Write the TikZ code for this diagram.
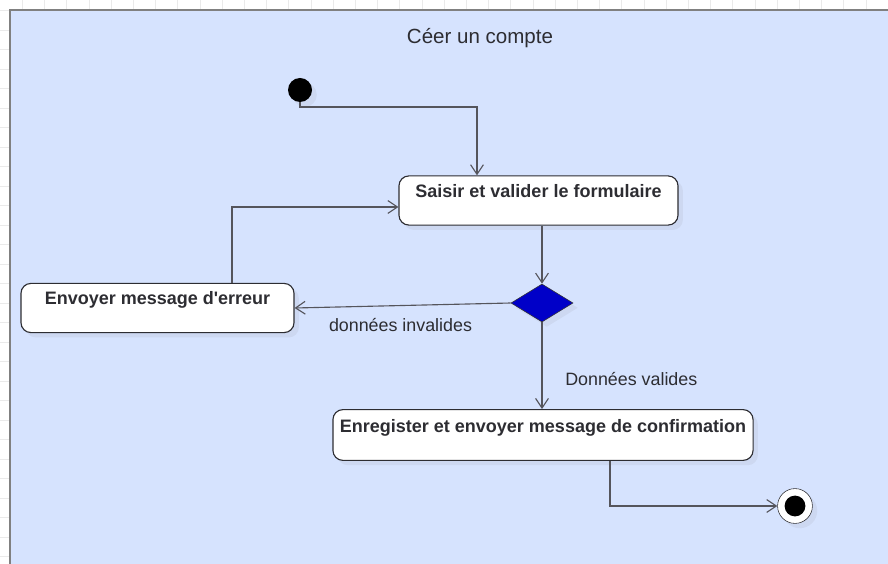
\documentclass[tikz,border=0pt]{standalone}
\usepackage{fontspec}
\setmainfont{Liberation Sans}[Ligatures=TeXOff]
\usepackage{tikz}
\usetikzlibrary{calc,positioning,arrows.meta,shapes.geometric,shadows}

\definecolor{cadre}{RGB}{214,227,254}
\definecolor{trait}{RGB}{85,85,92}
\definecolor{texte}{RGB}{45,45,50}
\definecolor{losange}{RGB}{0,0,200}
\definecolor{grille}{RGB}{234,234,234}

\begin{document}
\begin{tikzpicture}[x=0.025cm,y=-0.025cm,>={Straight Barb[length=0.24cm,width=0.32cm]},
    ombre/.style={drop shadow={shadow xshift=0.12cm,shadow yshift=-0.12cm,opacity=0.10}},
    action/.style={draw=texte,fill=white,rounded corners=0.25cm,thick,ombre,
      inner sep=0pt,text height=0.53cm,text depth=0.7cm,text=texte,
      font=\fontsize{12.8}{15}\selectfont\bfseries},
    flow/.style={->,trait,thick},
    lbl/.style={text=texte,font=\fontsize{12.7}{15}\selectfont}]
  % fond et cadre
  \useasboundingbox (0,0) rectangle (888,564);
  \fill[white] (0,0) rectangle (888,564);
  \foreach \i in {1,...,39} \draw[grille] (\i*22.2,0) -- (\i*22.2,564);
  \foreach \j in {0,...,28} \draw[grille] (0,10.5+\j*19.5) -- (888,10.5+\j*19.5);
  \draw[fill=cadre,draw=gray,line width=1.2pt] (10,10) rectangle (900,580);

  \node[text=texte,font=\fontsize{14.6}{17}\selectfont] (titre) at (480,38) {Céer un compte};

  %%%%

  \node[circle,fill=black,minimum size=0.6cm,inner sep=0pt,ombre] (debut) at (300,90) {};
  \node[action,minimum width=6.975cm] (saisir) at (538.5,200.5) {Saisir et valider le formulaire};
  \node[diamond,draw=black!80,fill=losange,minimum width=1.55cm,minimum height=0.95cm,inner sep=0pt,ombre] (choix) at (542,303) {};
  \node[action,minimum width=6.825cm] (erreur) at (157.5,308) {Envoyer message d'erreur};
  \node[action,minimum width=10.5cm,text height=0.57cm] (enreg) at (543,435) {Enregister et envoyer message de confirmation};
  \node[circle,draw=texte,fill=white,minimum size=0.87cm,inner sep=0pt,ombre] (fin) at (795,506) {};
  \node[circle,fill=black,minimum size=0.52cm,inner sep=0pt] (fin_in) at (fin) {};

  %%%%

  \coordinate (c1) at (477,107);
  \draw[flow] (debut) |- (c1) -- (saisir.north -| c1);
  \draw[flow] (saisir.south -| choix) -- (choix.north);
  \draw[flow] (choix.west) --node[lbl,below=0.2cm,pos=0.51]{données invalides} (erreur.east);
  \draw[flow] ($(erreur.north)+(74.5,0)$) |- ($(saisir.west)+(0,6.5)$);
  \draw[flow] (choix.south) --node[lbl,right=0.45cm,pos=0.65]{Données valides} (enreg.north -| choix);
  \draw[flow] ($(enreg.south)+(67,0)$) |- (fin.west);

\end{tikzpicture}
\end{document}
